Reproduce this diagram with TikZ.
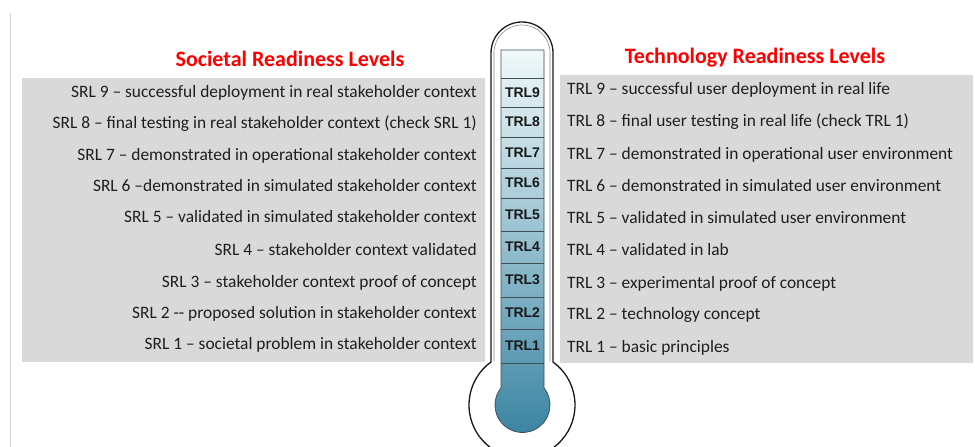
\documentclass[tikz,border=0pt]{standalone}
\usepackage{fontspec}
\setmainfont{Carlito}
\newfontfamily\arialfont{Liberation Sans}
\definecolor{boxgray}{HTML}{D9D9D9}
\definecolor{txt}{HTML}{1E1E1E}
\definecolor{fluidtop}{HTML}{F0F9FA}
\definecolor{fluidmid}{HTML}{7FC2CE}
\definecolor{fluidbot}{HTML}{3A84A3}
\definecolor{cellline}{HTML}{3F4F55}
\begin{document}
\begin{tikzpicture}[x=1pt,y=1pt,
  lvl/.style={font=\fontsize{17.4}{20}\selectfont, text=txt, inner sep=0pt},
  ttl/.style={font=\fontsize{22}{26}\selectfont\bfseries, text=red, inner sep=0pt, anchor=base},
  cell/.style={font=\arialfont\bfseries\fontsize{14}{16}\selectfont, text=black!90, inner sep=0pt, anchor=base},
  panel/.style={fill=boxgray, draw=none}
]
\useasboundingbox (0,0) rectangle (975,447);
\clip (0,0) rectangle (975,447);
% left thin line
\draw[black!18, line width=1pt] (10,434) -- (10,0);
% panels
\fill[panel] (22,85) rectangle (485,369);
\fill[panel] (560,84) rectangle (973,372);
% titles
\node[ttl] (tsrl) at (290,380) {Societal Readiness Levels};
\node[ttl] (ttrl) at (755,383) {Technology Readiness Levels};
% SRL rows
\node[lvl, anchor=base east] (s9) at (477,349.4) {SRL 9 – successful deployment in real stakeholder context};
\node[lvl, anchor=base east] (s8) at (477,318.4) {SRL 8 – final testing in real stakeholder context (check SRL 1)};
\node[lvl, anchor=base east] (s7) at (477,286.4) {SRL 7 – demonstrated in operational stakeholder context};
\node[lvl, anchor=base east] (s6) at (477,255.4) {SRL 6 –demonstrated in simulated stakeholder context};
\node[lvl, anchor=base east] (s5) at (477,224.4) {SRL 5 – validated in simulated stakeholder context};
\node[lvl, anchor=base east] (s4) at (477,191.4) {SRL 4 – stakeholder context validated};
\node[lvl, anchor=base east] (s3) at (477,159.4) {SRL 3 – stakeholder context proof of concept};
\node[lvl, anchor=base east] (s2) at (477,128.4) {SRL 2 -{}- proposed solution in stakeholder context};
\node[lvl, anchor=base east] (s1) at (477,97.4) {SRL 1 – societal problem in stakeholder context};
% TRL rows
\node[lvl, anchor=base west] (r9) at (567,352.4) {TRL 9 – successful user deployment in real life};
\node[lvl, anchor=base west] (r8) at (567,320.4) {TRL 8 – final user testing in real life (check TRL 1)};
\node[lvl, anchor=base west] (r7) at (567,287.4) {TRL 7 – demonstrated in operational user environment};
\node[lvl, anchor=base west] (r6) at (567,255.4) {TRL 6 – demonstrated in simulated user environment};
\node[lvl, anchor=base west] (r5) at (567,223.4) {TRL 5 – validated in simulated user environment};
\node[lvl, anchor=base west] (r4) at (567,191.4) {TRL 4 – validated in lab};
\node[lvl, anchor=base west] (r3) at (567,158.4) {TRL 3 – experimental proof of concept};
\node[lvl, anchor=base west] (r2) at (567,127.4) {TRL 2 – technology concept};
\node[lvl, anchor=base west] (r1) at (567,94.4) {TRL 1 – basic principles};
% thermometer outline
\draw[black!90, line width=1.3pt, fill=white]
  (491,85) -- (491,394) arc[start angle=180, end angle=0, radius=31]
  -- (553,85) arc[start angle=54.2, end angle=-234.2, radius=53] -- cycle;
\draw[black!45, line width=0.6pt]
  (494,85.5) -- (494,394) arc[start angle=180, end angle=0, radius=28] -- (550,85.5);
% fluid
\shade[top color=fluidtop, middle color=fluidmid, bottom color=fluidbot]
  (501,59.1) -- (501,397) -- (544,397) -- (544,59.1)
  arc[start angle=38.5, end angle=-218.5, radius=27.5] -- cycle;
\draw[cellline, line width=0.8pt]
  (501,59.1) -- (501,397) -- (544,397) -- (544,59.1)
  arc[start angle=38.5, end angle=-218.5, radius=27.5] -- cycle;
\foreach \yy in {369,340,310,279,249,216,184,150,118,84}
  \draw[cellline, line width=0.7pt] (501,\yy) -- (544,\yy);
% cell labels
\node[cell] (c9) at (522.5,349.5) {TRL9};
\node[cell] (c8) at (522.5,320) {TRL8};
\node[cell] (c7) at (522.5,289.5) {TRL7};
\node[cell] (c6) at (522.5,259) {TRL6};
\node[cell] (c5) at (522.5,227.5) {TRL5};
\node[cell] (c4) at (522.5,195) {TRL4};
\node[cell] (c3) at (522.5,162) {TRL3};
\node[cell] (c2) at (522.5,129) {TRL2};
\node[cell] (c1) at (522.5,96) {TRL1};
\end{tikzpicture}
\end{document}
